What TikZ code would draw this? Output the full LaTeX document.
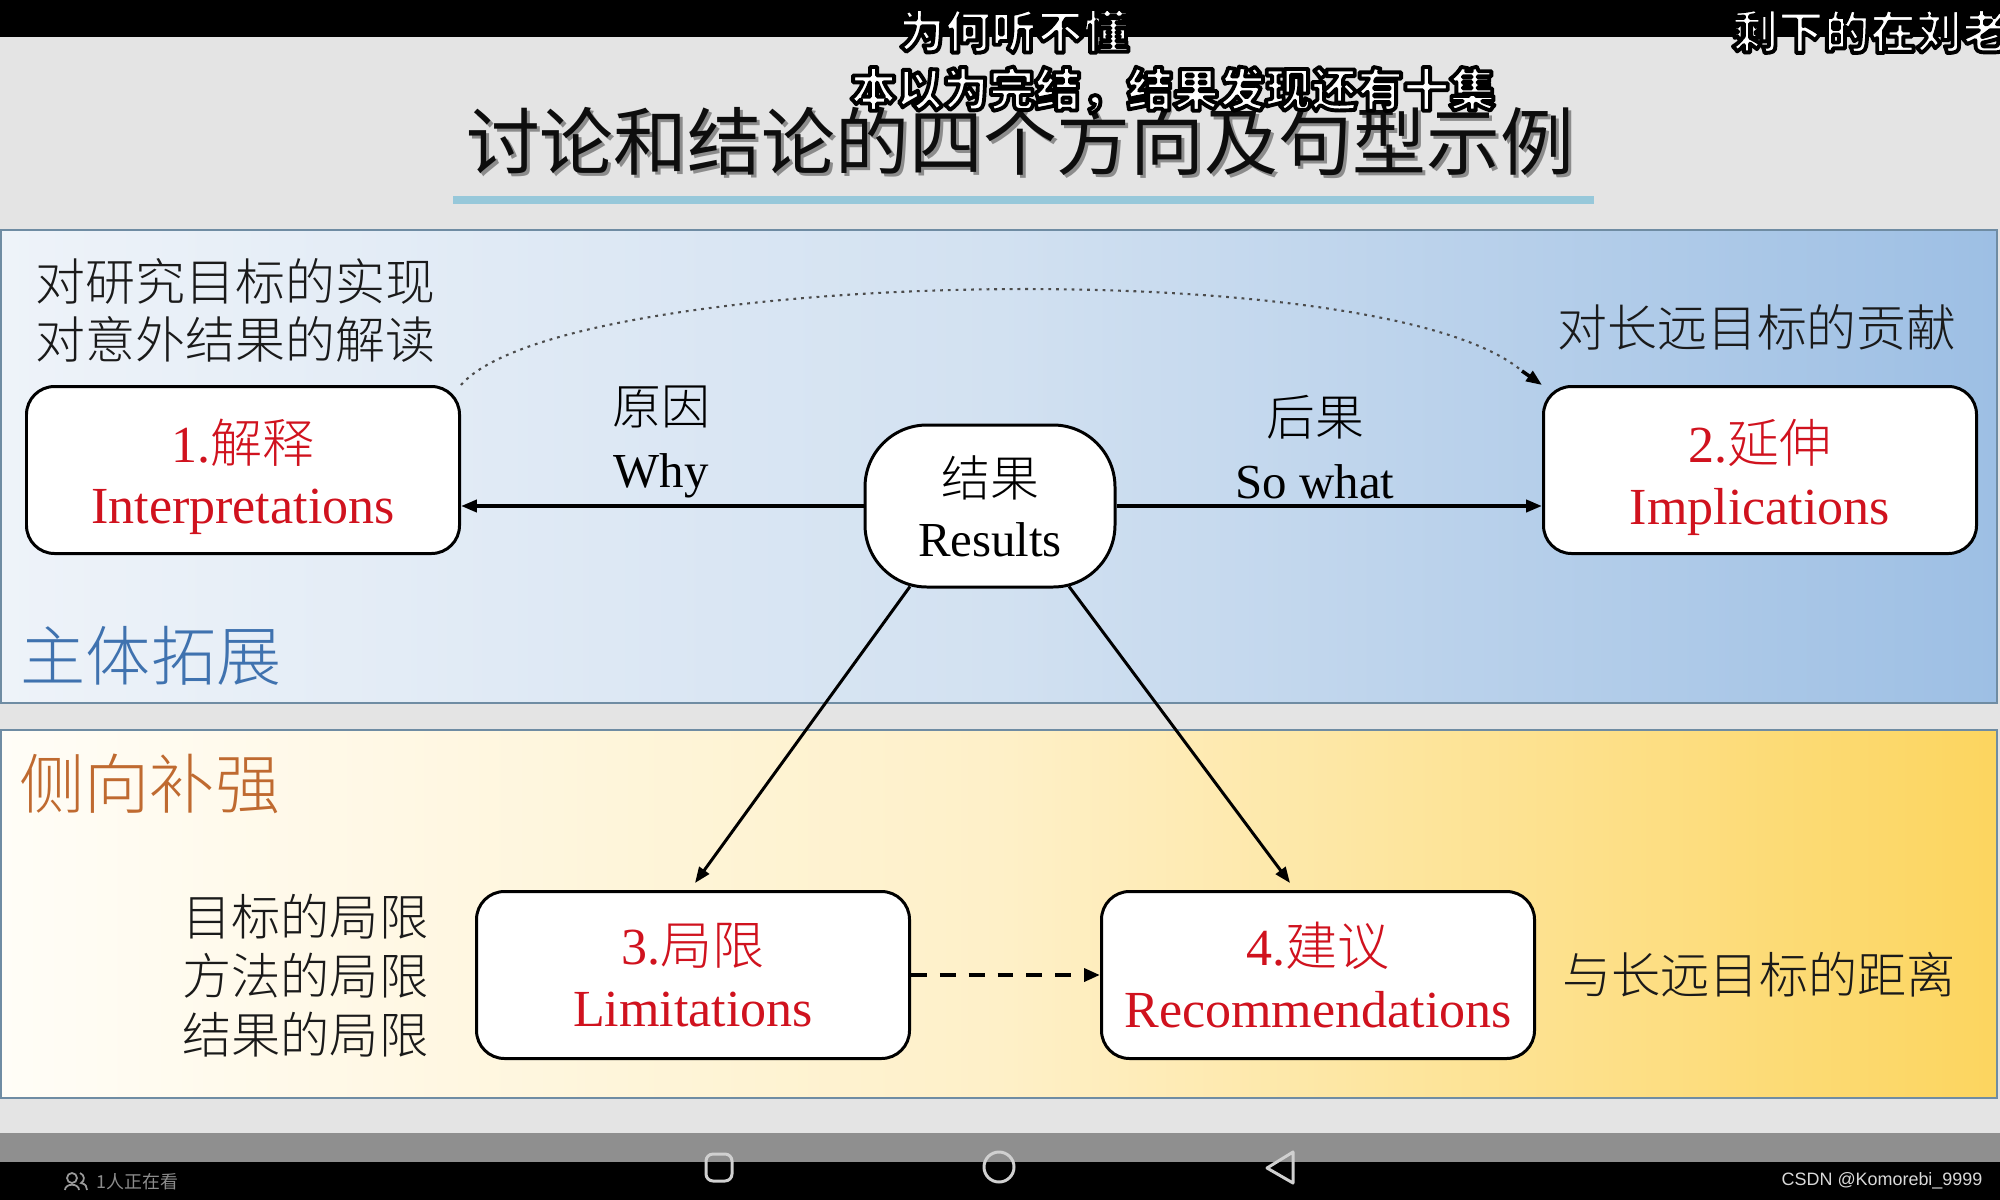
\documentclass[tikz,border=0pt]{standalone}
\usepackage{fontspec}
\setmainfont{Liberation Serif}
\newfontfamily\cjk{Noto Sans CJK SC}
\IfFontExistsTF{Noto Sans CJK SC Light}{\newfontfamily\cjkl{Noto Sans CJK SC Light}}{\newfontfamily\cjkl{Noto Sans CJK SC}}
\newfontfamily\lsans{Liberation Sans}
\usetikzlibrary{arrows.meta,calc}
\newdimen\pxu \pxu=0.01cm
\newcommand\fsz[2]{\fontsize{#1pt}{#2pt}\selectfont}
\newcommand\outl[1]{\special{pdf:literal direct 0 G 1.1 w 1 j 2 Tr}#1\special{pdf:literal direct 0 Tr}}
\definecolor{bgray}{HTML}{E4E4E4}
\definecolor{blueL}{HTML}{EEF3F9}
\definecolor{blueM}{HTML}{D2E1F1}
\definecolor{blueR}{HTML}{9DBFE4}
\definecolor{yelL}{HTML}{FFFDF7}
\definecolor{yelM}{HTML}{FEF0C8}
\definecolor{yelR}{HTML}{FCD55F}
\definecolor{pborder}{HTML}{6F8CA3}
\definecolor{boxred}{HTML}{D0121E}
\definecolor{secblue}{HTML}{3F72AF}
\definecolor{secorange}{HTML}{BF6A30}
\definecolor{ublue}{HTML}{97C8DA}
\definecolor{uigray}{HTML}{8F8F8F}
\definecolor{iconc}{HTML}{D0D0D0}
\definecolor{txt}{HTML}{1A1A1A}
\tikzset{
  box/.style={draw=black, line width=0.85pt, fill=white, rounded corners=28\pxu,
    minimum width=433\pxu, minimum height=167\pxu, align=center, text=boxred,
    inner sep=0pt, font=\fsz{14.8}{17.4}},
  resnode/.style={draw=black, line width=0.85pt, fill=white, rounded corners=62\pxu,
    minimum width=250\pxu, minimum height=162\pxu, align=center, text=black,
    inner sep=0pt, font=\fsz{13.9}{17.1}},
  lbl/.style={text=txt, inner sep=0pt, font=\cjkl\fsz{14.2}{16.5}},
  sec/.style={inner sep=0pt, font=\cjkl\fsz{18.5}{20}},
  elbl/.style={text=black, inner sep=0pt, align=center, font=\fsz{13.9}{17.9}},
  sub/.style={text=white, inner sep=0pt, font=\cjk\bfseries\fsz{13.1}{15}},
  arr/.style={line width=1.05pt, -{Triangle[length=4.5pt,width=3.4pt]}},
  arrd/.style={line width=0.85pt, -{Triangle[length=4.5pt,width=3.4pt]}},
  dasharr/.style={line width=1.2pt, dash pattern=on 4.5pt off 3.7pt, -{Triangle[length=4.5pt,width=3.6pt]}},
  dotline/.style={line width=0.6pt, draw=black!70, dash pattern=on 0.8pt off 1.4pt},
  icon/.style={draw=iconc, line width=0.85pt},
}
\begin{document}
\begin{tikzpicture}[x=0.01cm,y=-0.01cm]
\useasboundingbox (0,0) rectangle (2000,1200);
% background
\fill[bgray] (0,0) rectangle (2000,1200);
\fill[black] (0,0) rectangle (2000,37);
\fill[uigray] (0,1133) rectangle (2000,1162);
\fill[black] (0,1162) rectangle (2000,1200);

% title
\node[text=black!45, inner sep=0pt, font=\cjk\fsz{21}{25}] (titleshadow) at (1023,144) {讨论和结论的四个方向及句型示例};
\node[text=black!95, inner sep=0pt, font=\cjk\fsz{21}{25}] (title) at (1020,141) {讨论和结论的四个方向及句型示例};
\fill[ublue] (453,196) rectangle (1594,204);

% panels
\path[draw=pborder, line width=0.7pt, left color=blueL, right color=blueR, middle color=blueM] (1,230) rectangle (1997,703);
\path[draw=pborder, line width=0.7pt, left color=yelL, right color=yelR, middle color=yelM] (1,730) rectangle (1997,1098);

% section labels
\node[sec, text=secblue] (main) at (151,656) {主体拓展};
\node[sec, text=secorange] (side) at (150,784) {侧向补强};

% side labels
\node[lbl, anchor=west, align=left] (goalL) at (35,310) {对研究目标的实现\\对意外结果的解读};
\node[lbl] (goalR) at (1757,327) {对长远目标的贡献};
\node[lbl, anchor=east, align=right, font=\cjkl\fsz{14}{16.8}] (limL) at (429,976) {目标的局限\\方法的局限\\结果的局限};
\node[lbl, font=\cjkl\fsz{14}{16.8}] (recR) at (1759,975) {与长远目标的距离};

% main nodes
\node[resnode] (res) at (990,506) {{\cjkl 结果}\\Results};
\node[box] (int) at (243,470) {\rule{0pt}{16pt}1.{\cjkl 解释}\\Interpretations};
\node[box] (imp) at (1760,470) {\rule{0pt}{16.5pt}2.{\cjkl 延伸}\\Implications};
\node[box] (lim) at (693,975) {3.{\cjkl 局限}\\Limitations};
\node[box] (rec) at (1318,975) {4.{\cjkl 建议}\\Recommendations};

% edge labels
\node[elbl] (why) at (661,442) {{\cjkl 原因}\\Why};
\node[elbl] (sowhat) at (1315,447) {{\cjkl 后果}\\So what};

% connectors
\draw[arr] (res.west) -- (res.west -| int.east);
\draw[arr] (res.east) -- (res.east -| imp.west);
\draw[arrd] ($(res.south)+(-80,-2)$) -- ($(lim.north)+(2,-7)$);
\draw[arrd] ($(res.south)+(79,-2)$) -- ($(rec.north)+(-28,-7)$);
\draw[dasharr] (lim.east) -- (rec.west);
\coordinate (dc) at (1522,371);
\draw[dotline] (int.north east) .. controls (560,270) and (1380,250) .. (dc);
\draw[line width=1pt, -{Triangle[length=4.5pt,width=3.4pt]}] (dc) -- (imp.north west);

% subtitles overlay
\node[sub] (s1) at (1014,31) {\outl{为何听不懂}};
\node[sub, anchor=west] (s2) at (1731,31) {\outl{剩下的在刘老}};
\node[sub] (s3) at (1173,90) {\outl{本以为完结，结果发现还有十集}};

% bottom UI
\draw[icon, rounded corners=2pt] (706,1154) rectangle (732,1181);
\draw[icon] (999,1167) circle (15);
\draw[icon, line join=round] (1293,1152) -- (1267,1168) -- (1293,1183) -- cycle;
\draw[draw=gray!80, line width=0.5pt] (72,1178) circle (5);
\draw[draw=gray!80, line width=0.5pt] (65,1190) .. controls (65,1183) and (79,1183) .. (79,1190);
\draw[draw=gray!80, line width=0.5pt] (80,1173) .. controls (85,1175) and (85,1181) .. (81,1183) .. controls (86,1184) and (87,1187) .. (87,1190);
\node[anchor=west, inner sep=0pt, text=gray!90, font=\cjk\fsz{5.1}{6}] (watch) at (96,1182) {1人正在看};
\node[anchor=west, inner sep=0pt, text=black!15, font=\lsans\fsz{5.1}{6}] (csdn) at (1781,1181) {CSDN @Komorebi\_9999};
\end{tikzpicture}
\end{document}
